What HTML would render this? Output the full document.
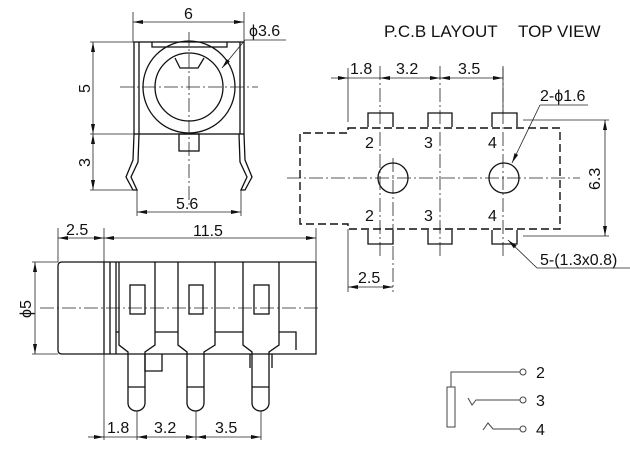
<!DOCTYPE html>
<html><head><meta charset="utf-8"><style>
html,body{margin:0;padding:0;background:#fff}
svg{display:block}
text{font-family:"Liberation Sans",Arial,sans-serif;fill:#111;font-size:16px}
.ti{font-size:17px}
.l{stroke:#111;stroke-width:1.3;fill:none}
.t{stroke:#222;stroke-width:0.8;fill:none}
.c{stroke:#222;stroke-width:0.8;fill:none;stroke-dasharray:14 3 2 3}
.d{stroke:#111;stroke-width:1.4;fill:none;stroke-dasharray:8 4}
</style></head><body>
<svg width="630" height="453" viewBox="0 0 630 453" xmlns="http://www.w3.org/2000/svg">
<defs><marker id="a" markerWidth="10" markerHeight="6" refX="10" refY="3" orient="auto-start-reverse" markerUnits="userSpaceOnUse"><path d="M0,1 L10,3 L0,5 Z" fill="#111"/></marker></defs>

<line class="t" x1="133" y1="12" x2="133" y2="42"/><line class="t" x1="244" y1="12" x2="244" y2="42"/>
<line class="t" x1="133" y1="22" x2="244" y2="22" marker-start="url(#a)" marker-end="url(#a)"/>
<text x="184" y="19">6</text>
<rect class="l" x="134" y="42" width="110" height="92"/>
<line class="l" x1="139" y1="42" x2="139" y2="134"/><line class="l" x1="240" y1="42" x2="240" y2="134"/>
<path class="l" d="M152,42 V47 H227 V42"/>
<circle class="l" cx="189" cy="87" r="46"/><circle class="l" cx="189" cy="87" r="34"/>
<path class="l" d="M175,58 L180,68 H198 L204,58"/>
<rect class="l" x="179" y="134" width="20" height="17"/>
<path class="l" d="M134,134 L133,160 L126,177 L133,190 L137,190 L131,177 L138,162 L139,134"/>
<path class="l" d="M244,134 L245,160 L252,177 L245,190 L241,190 L247,177 L240,162 L239,134"/>
<line class="c" x1="120" y1="87" x2="258" y2="87"/><line class="c" x1="189" y1="32" x2="189" y2="205"/>
<line class="t" x1="90" y1="42" x2="134" y2="42"/><line class="t" x1="90" y1="134" x2="134" y2="134"/><line class="t" x1="90" y1="190" x2="133" y2="190"/>
<line class="t" x1="93" y1="42" x2="93" y2="134" marker-start="url(#a)" marker-end="url(#a)"/>
<line class="t" x1="93" y1="134" x2="93" y2="190" marker-start="url(#a)" marker-end="url(#a)"/>
<text transform="translate(93,88) rotate(-90)" x="-5" y="-3">5</text>
<text transform="translate(93,162) rotate(-90)" x="-5" y="-3">3</text>
<line class="t" x1="137" y1="190" x2="137" y2="216"/><line class="t" x1="241" y1="190" x2="241" y2="216"/>
<line class="t" x1="137" y1="212" x2="241" y2="212" marker-start="url(#a)" marker-end="url(#a)"/>
<text x="176" y="209">5.6</text>
<line class="t" x1="222" y1="68" x2="245" y2="40" marker-start="url(#a)"/><line class="t" x1="245" y1="40" x2="286" y2="40"/>
<text x="249" y="36">ϕ3.6</text>

<line class="t" x1="58" y1="228" x2="58" y2="262"/><line class="t" x1="104" y1="228" x2="104" y2="440"/><line class="t" x1="316" y1="228" x2="316" y2="262"/>
<line class="t" x1="58" y1="238" x2="104" y2="238" marker-start="url(#a)" marker-end="url(#a)"/>
<line class="t" x1="104" y1="238" x2="316" y2="238" marker-start="url(#a)" marker-end="url(#a)"/>
<text x="66" y="235">2.5</text><text x="193" y="236">11.5</text>
<path class="l" d="M62,262 H316 V354 H62 Q58,354 58,350 V266 Q58,262 62,262 Z"/>
<line class="l" x1="104" y1="262" x2="104" y2="354"/><line class="l" x1="110" y1="262" x2="110" y2="354"/><line class="l" x1="116" y1="262" x2="116" y2="354"/>
<line class="l" x1="116" y1="332" x2="119" y2="332"/><line class="l" x1="155" y1="332" x2="178" y2="332"/><line class="l" x1="215" y1="332" x2="243" y2="332"/><path class="l" d="M279,332 H296 V350"/>
<path class="l" fill="#fff" d="M119,262 V345 L128,352 V403 A8.5,8 0 0 0 145,403 V352 L155,345 V262"/>
<path class="l" fill="#fff" d="M178,262 V345 L187,352 V403 A8.5,8 0 0 0 204,403 V352 L215,345 V262"/>
<path class="l" fill="#fff" d="M243,262 V345 L252,352 V403 A8.5,8 0 0 0 269,403 V352 L279,345 V262"/>
<line class="l" x1="128" y1="387" x2="145" y2="387"/><line class="l" x1="187" y1="387" x2="204" y2="387"/><line class="l" x1="252" y1="387" x2="269" y2="387"/>
<rect class="l" x="130" y="285" width="15" height="29"/><rect class="l" x="189" y="285" width="14" height="29"/><rect class="l" x="254" y="285" width="15" height="29"/>
<path class="l" d="M145,354 V371 H162 V354"/>
<path class="l" d="M250,354 V368 M272,354 V368"/>
<line class="c" x1="40" y1="308" x2="320" y2="308"/>
<line class="t" x1="32" y1="262" x2="58" y2="262"/><line class="t" x1="32" y1="354" x2="58" y2="354"/>
<line class="t" x1="35" y1="262" x2="35" y2="354" marker-start="url(#a)" marker-end="url(#a)"/>
<text transform="translate(35,308) rotate(-90)" x="-10" y="-4">ϕ5</text>
<line class="t" x1="137" y1="411" x2="137" y2="440"/><line class="t" x1="196" y1="411" x2="196" y2="440"/><line class="t" x1="261" y1="411" x2="261" y2="440"/>
<line class="t" x1="88" y1="437" x2="104" y2="437" marker-end="url(#a)"/>
<line class="t" x1="104" y1="437" x2="137" y2="437"/>
<line class="t" x1="137" y1="437" x2="196" y2="437" marker-start="url(#a)" marker-end="url(#a)"/>
<line class="t" x1="196" y1="437" x2="261" y2="437" marker-start="url(#a)" marker-end="url(#a)"/>
<text x="107" y="433">1.8</text><text x="154" y="433">3.2</text><text x="215" y="433">3.5</text>

<text class="ti" x="384" y="37">P.C.B LAYOUT</text><text class="ti" x="518" y="37">TOP VIEW</text>
<line class="t" x1="348" y1="68" x2="348" y2="122"/><line class="t" x1="503" y1="68" x2="503" y2="112"/>
<line class="t" x1="331" y1="78" x2="348" y2="78" marker-end="url(#a)"/>
<line class="t" x1="348" y1="78" x2="380" y2="78"/>
<line class="t" x1="380" y1="78" x2="440" y2="78" marker-start="url(#a)" marker-end="url(#a)"/>
<line class="t" x1="440" y1="78" x2="503" y2="78" marker-start="url(#a)" marker-end="url(#a)"/>
<text x="350" y="74">1.8</text><text x="396" y="74">3.2</text><text x="458" y="74">3.5</text>
<line class="c" x1="380" y1="66" x2="380" y2="258"/><line class="c" x1="440" y1="66" x2="440" y2="258"/><line class="c" x1="503" y1="66" x2="503" y2="258"/>
<line class="c" x1="393" y1="158" x2="393" y2="292"/>
<line class="c" x1="287" y1="178" x2="580" y2="178"/>
<path class="d" d="M348,128 H560 V229 H348 V224 H300 V133 H348 Z"/>
<path class="l" d="M368,127 V113 H393 V127 M428,127 V113 H452 V127 M492,127 V113 H517 V127"/>
<path class="l" d="M368,230 V244 H393 V230 M428,230 V244 H452 V230 M492,230 V244 H517 V230"/>
<circle class="l" cx="393" cy="178" r="15"/><circle class="l" cx="504" cy="178" r="15"/>
<text x="365" y="148">2</text><text x="424" y="148">3</text><text x="488" y="148">4</text>
<text x="365" y="221">2</text><text x="424" y="221">3</text><text x="488" y="221">4</text>
<line class="t" x1="523" y1="120" x2="609" y2="120"/><line class="t" x1="523" y1="236" x2="609" y2="236"/>
<line class="t" x1="605" y1="120" x2="605" y2="236" marker-start="url(#a)" marker-end="url(#a)"/>
<text transform="translate(605,178) rotate(-90)" x="-12" y="-5">6.3</text>
<line class="t" x1="348" y1="229" x2="348" y2="292"/>
<line class="t" x1="348" y1="287" x2="393" y2="287" marker-start="url(#a)" marker-end="url(#a)"/>
<text x="358" y="283">2.5</text>
<line class="t" x1="540" y1="105" x2="512" y2="163" marker-end="url(#a)"/><line class="t" x1="540" y1="105" x2="588" y2="105"/>
<text x="540" y="101">2-ϕ1.6</text>
<line class="t" x1="537" y1="268" x2="508" y2="240" marker-end="url(#a)"/><line class="t" x1="537" y1="268" x2="630" y2="268"/>
<text x="540" y="265">5-(1.3x0.8)</text>

<g stroke="#444" stroke-width="1" fill="none">
<rect x="447" y="387" width="8" height="40"/>
<path d="M451,387 V372 H520"/><circle cx="523" cy="372" r="3"/>
<path d="M468,398 L472,405 L476,400 H520"/><circle cx="523" cy="400" r="3"/>
<path d="M483,430 L488,423 L493,429 H520"/><circle cx="523" cy="429" r="3"/>
</g>
<text x="536" y="378">2</text><text x="536" y="406">3</text><text x="536" y="435">4</text>
</svg>
</body></html>
